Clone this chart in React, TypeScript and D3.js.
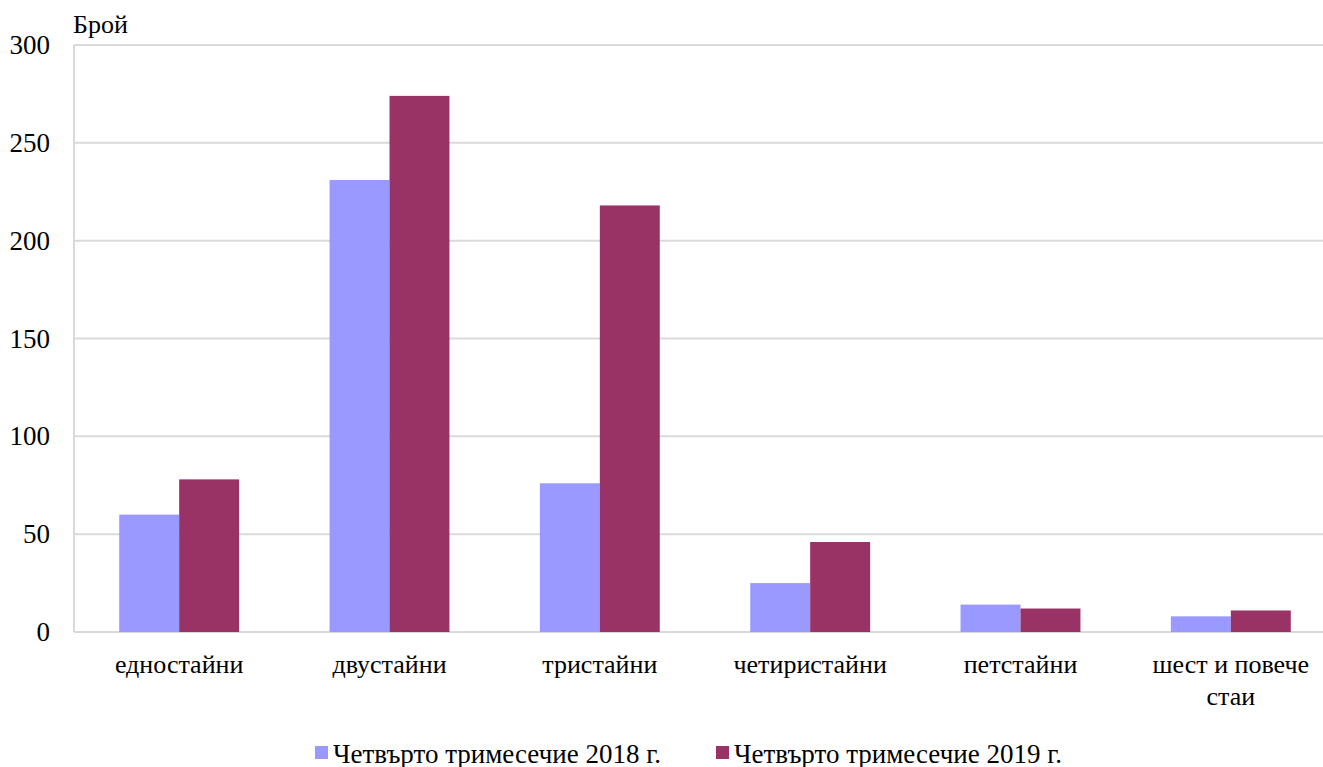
import { useEffect, useRef } from 'react';
import * as d3 from 'd3';

const categories = ['едностайни', 'двустайни', 'тристайни', 'четиристайни', 'петстайни', 'шест и повече стаи'];
const series2018 = [60, 231, 76, 25, 14, 8];
const series2019 = [78, 274, 218, 46, 12, 11];
const seriesNames = ['Четвърто тримесечие 2018 г.', 'Четвърто тримесечие 2019 г.'];
const yTicks = [0, 50, 100, 150, 200, 250, 300];

export default function App() {
  const svgRef = useRef<SVGSVGElement>(null);

  useEffect(() => {
    const svg = d3.select(svgRef.current);
    svg.selectAll('*').remove();

    const width = 1323;
    const height = 767;
    const left = 74;
    const right = 1336;
    const top = 45;
    const bottom = 632;
    const font = '"Liberation Serif", "Times New Roman", serif';
    const colors = ['#9999ff', '#993366'];

    const x = d3.scaleBand().domain(categories).range([left, right]).paddingInner(0.43).paddingOuter(0.215);
    const y = d3.scaleLinear().domain([0, 300]).range([bottom, top]);

    const rows = categories.map((c, i) => ({ c, vals: [series2018[i], series2019[i]] }));

    svg.attr('width', width).attr('height', height).style('display', 'block');

    // gridlines
    svg.append('g')
      .selectAll('line')
      .data(yTicks)
      .join('line')
      .attr('x1', left)
      .attr('x2', width)
      .attr('y1', d => y(d))
      .attr('y2', d => y(d))
      .attr('stroke', '#d9d9d9')
      .attr('stroke-width', 2);

    svg.append('line')
      .attr('x1', left).attr('x2', left)
      .attr('y1', top).attr('y2', bottom)
      .attr('stroke', '#d9d9d9')
      .attr('stroke-width', 2);

    // bars
    const bw = x.bandwidth() / 2;
    svg.append('g')
      .selectAll('g')
      .data(rows)
      .join('g')
      .selectAll('rect')
      .data(d => d.vals.map((v, k) => ({ c: d.c, v, k })))
      .join('rect')
      .attr('x', d => (x(d.c) as number) + d.k * bw)
      .attr('y', d => y(d.v))
      .attr('width', bw)
      .attr('height', d => bottom - y(d.v))
      .attr('fill', d => colors[d.k]);

    // y tick labels
    svg.append('g')
      .selectAll('text')
      .data(yTicks)
      .join('text')
      .attr('x', 50)
      .attr('y', d => y(d) + 9)
      .attr('text-anchor', 'end')
      .attr('font-family', font)
      .attr('font-size', 27)
      .text(d => d);

    svg.append('text')
      .attr('x', 73)
      .attr('y', 33)
      .attr('font-family', font)
      .attr('font-size', 26)
      .text('Брой');

    // category labels
    const catG = svg.append('g');
    categories.forEach(c => {
      const cx = (x(c) as number) + x.bandwidth() / 2;
      const lines = c === 'шест и повече стаи' ? ['шест и повече', 'стаи'] : [c];
      lines.forEach((ln, j) => {
        catG.append('text')
          .attr('x', cx)
          .attr('y', 673 + j * 32)
          .attr('text-anchor', 'middle')
          .attr('font-family', font)
          .attr('font-size', 26)
          .text(ln);
      });
    });

    // legend
    const legendX = [315, 716];
    seriesNames.forEach((name, i) => {
      const g = svg.append('g').attr('transform', `translate(${legendX[i]}, 0)`);
      g.append('rect')
        .attr('x', 0)
        .attr('y', 746)
        .attr('width', 13)
        .attr('height', 13)
        .attr('fill', colors[i]);
      g.append('text')
        .attr('x', 18)
        .attr('y', 763)
        .attr('font-family', font)
        .attr('font-size', 27)
        .text(name);
    });
  }, []);

  return <svg ref={svgRef} style={{ position: 'absolute', left: 0, top: 0 }}></svg>;
}
